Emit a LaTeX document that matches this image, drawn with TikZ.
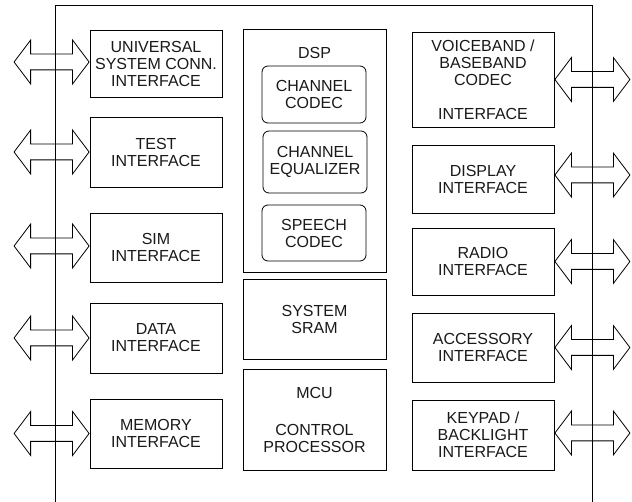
\documentclass[tikz,border=0pt]{standalone}
\usepackage{fontspec}
\setmainfont{Liberation Sans}
\usepackage{tikz}
\usetikzlibrary{shapes.arrows}

\begin{document}
\begin{tikzpicture}[x=1pt,y=-1pt,>=stealth,
        blk/.style={thick,rectangle,draw,align=center,text=black!90,
            font=\fontsize{16}{17}\selectfont},
        sub/.style={blk,rounded corners=6pt},
        bus/.style={thick,double arrow,draw,inner sep=7.5pt,
            minimum height=75pt,double arrow head extend=14pt,
            double arrow tip angle=106}]
        \useasboundingbox (0,0) rectangle (632,502);
        % left interfaces
        \node [blk,minimum width=132pt,minimum height=67pt] (usc) at (156,63.5) {UNIVERSAL\\SYSTEM CONN.\\INTERFACE};
        \node [blk,minimum width=132pt,minimum height=70pt] (tst) at (156,152) {TEST\\INTERFACE};
        \node [blk,minimum width=132pt,minimum height=69pt] (sim) at (156,247.5) {SIM\\INTERFACE};
        \node [blk,minimum width=132pt,minimum height=70pt] (dat) at (156,338) {DATA\\INTERFACE};
        \node [blk,minimum width=132pt,minimum height=69pt] (mem) at (156,433.5) {MEMORY\\INTERFACE};
        % core
        \node [blk,minimum width=143pt,minimum height=243pt] (dsp) at (314.5,150.5) {};
        \node [blk,draw=none] (dsplbl) at (314.5,53) {DSP};
        \node [sub,minimum width=104pt,minimum height=57pt] (chc) at (314,94.5) {CHANNEL\\CODEC};
        \node [sub,minimum width=104pt,minimum height=62pt,inner sep=0pt] (che) at (315,162) {CHANNEL\\EQUALIZER};
        \node [sub,minimum width=104pt,minimum height=56pt] (spc) at (314,233) {SPEECH\\CODEC};
        \node [blk,minimum width=143pt,minimum height=80pt] (ram) at (314.5,319) {SYSTEM\\SRAM};
        \node [blk,minimum width=143pt,minimum height=101pt] (mcu) at (314.5,419.5) {MCU\\[20pt]CONTROL\\PROCESSOR};
        % right interfaces
        \node [blk,minimum width=142pt,minimum height=95pt] (vbc) at (483,79.5) {VOICEBAND /\\BASEBAND\\CODEC\\[17pt]INTERFACE};
        \node [blk,minimum width=142pt,minimum height=68pt] (dsi) at (483,179) {DISPLAY\\INTERFACE};
        \node [blk,minimum width=142pt,minimum height=67pt] (rad) at (483,261.5) {RADIO\\INTERFACE};
        \node [blk,minimum width=142pt,minimum height=69pt] (acc) at (483,347.5) {ACCESSORY\\INTERFACE};
        \node [blk,minimum width=142pt,minimum height=70pt] (kbl) at (483,435) {KEYPAD /\\BACKLIGHT\\INTERFACE};
        % chip outline
        \coordinate (bl) at (55,502);
        \coordinate (tl) at (55,5);
        \coordinate (tr) at (592,5);
        \coordinate (br) at (592,502);
        \draw [thick] (bl) -- (tl) -- (tr) -- (br);
        % external ports
        \node [bus,anchor=east] (pusc) at ([yshift=1.5pt]usc.west) {};
        \node [bus,anchor=east] (ptst) at (tst.west) {};
        \node [bus,anchor=east] (psim) at ([yshift=1.5pt]sim.west) {};
        \node [bus,anchor=east] (pdat) at (dat.west) {};
        \node [bus,anchor=east] (pmem) at (mem.west) {};
        \node [bus,anchor=west] (pvbc) at (vbc.east) {};
        \node [bus,anchor=west] (pdsi) at ([yshift=4pt]dsi.east) {};
        \node [bus,anchor=west] (prad) at (rad.east) {};
        \node [bus,anchor=west] (pacc) at (acc.east) {};
        \node [bus,anchor=west] (pkbl) at ([yshift=2pt]kbl.east) {};
    \end{tikzpicture}
\end{document}
